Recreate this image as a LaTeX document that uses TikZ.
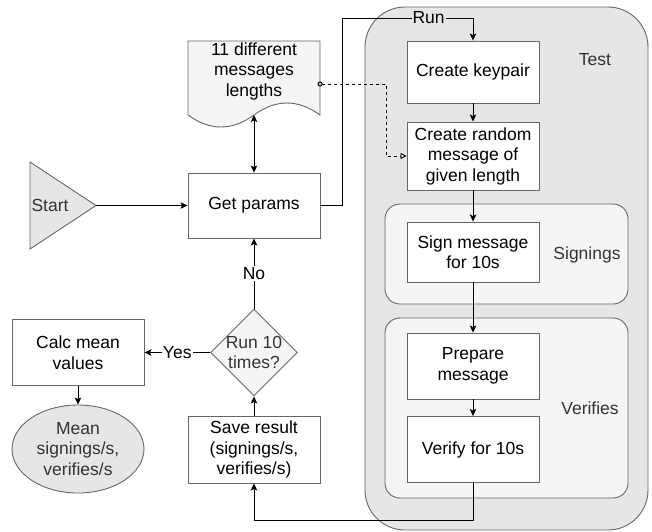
\documentclass[tikz,border=0pt]{standalone}
\usepackage{fontspec}
\setmainfont{Liberation Sans}
\usepackage{tikz}
\usetikzlibrary{arrows.meta,shapes.geometric}
\definecolor{panelgray}{HTML}{E6E6E6}
\definecolor{palegray}{HTML}{F5F5F5}
\definecolor{edgegray}{HTML}{666666}
\definecolor{textgray}{HTML}{333333}
\tikzset{
	% ---- default
	every path/.style={line width=0.9pt},
	every node/.style={font=\fontsize{17.5}{20.5}\selectfont, align=center},
	>={Stealth[length=7pt, width=6.5pt, inset=1.5pt]},
	% ---- custom
	process/.style={draw=edgegray, fill=white, minimum width=132pt, inner sep=2pt},
	panel/.style={draw=edgegray, fill=panelgray, rounded corners=40pt},
	subpanel/.style={draw=edgegray, fill=palegray, rounded corners=15pt, minimum width=243pt},
	decision/.style={diamond, draw=edgegray, fill=palegray, minimum width=87pt, minimum height=87pt, inner sep=0pt},
	terminal/.style={ellipse, draw=edgegray, fill=panelgray, text=textgray, minimum width=132pt, minimum height=88pt, inner sep=0pt},
	document/.style={draw=edgegray, fill=palegray},
	startshape/.style={draw=edgegray, fill=panelgray},
	panel label/.style={text=textgray},
	edge label/.style={fill=white, inner sep=1pt},
	link/.style={dash pattern=on 3pt off 3pt, shorten <=-2.5pt, {Circle[open, length=5pt, width=5pt]}-{Triangle[open, length=6pt, width=6pt]}},
}

\begin{document}
\begin{tikzpicture}[x=1pt, y=-1pt]

	\useasboundingbox (0,0) rectangle (652,531);

% containers %{{{2

	\node[panel, minimum width=283pt, minimum height=523pt] (test) at (506.5,268.5) {};
	\node[subpanel, minimum height=100pt] (signings) at (506.5,254) {};
	\node[subpanel, minimum height=180pt] (verifies) at (506.5,408) {};

	\node[panel label] at (595,60) {Test};
	\node[panel label] at (587,255) {Signings};
	\node[panel label] at (590,408) {Verifies};

% coordinates %{{{2

	\coordinate (start tip) at (96,205.5);
	\coordinate (doc bottom) at (254,115);
	\coordinate (doc port) at (320,84);
	\coordinate (run turn) at (473,18);

% shapes %{{{2

	\filldraw[startshape] (30,162) -- (start tip) -- (30,249) -- cycle;
	\node[text=textgray] (start) at (50,205.5) {Start};

	\filldraw[document] (188,41) -- (320,41) -- (320,115)
		.. controls (298,99) and (276,99) .. (doc bottom)
		.. controls (232,131) and (210,131) .. (188,115) -- cycle;
	\node (lengths) at (254,71) {11 different\\messages\\lengths};

% nodes %{{{2

	\node[process, minimum height=65pt] (params) at (254,205.5) {Get params};
	\node[process, minimum height=62pt] (keypair) at (473,72) {Create keypair};
	\node[process, minimum height=68pt] (randmsg) at (473,156) {Create random\\message of\\given length};
	\node[process, minimum height=60pt] (sign) at (473,252) {Sign message\\for 10s};
	\node[process, minimum height=66pt] (prepare) at (473,366) {Prepare\\message};
	\node[process, minimum height=66pt] (verify) at (473,449.5) {Verify for 10s};
	\node[process, minimum height=67pt] (save) at (254,449.5) {Save result\\(signings/s,\\verifies/s)};
	\node[decision] (runs) at (254,352.5) {};
	\node[text=textgray] (runs text) at (runs) {Run 10\\times?};
	\node[process, minimum height=66pt] (calc) at (78,352.5) {Calc mean\\values};
	\node[terminal] (mean) at (78,449) {Mean\\signings/s,\\verifies/s};

% connectors %{{{2

	\draw[->] (start tip) -- (params.west);
	\draw[<->] (params.north) -- (doc bottom);
	\draw[link] (doc port) -- (386,84) |- (randmsg.west);
	\draw[->] (params.east) -- ++(22,0) |- (run turn)
		node[pos=0.83, fill=panelgray, inner sep=1pt] {Run} -- (keypair.north);
	\draw[->] (keypair) -- (randmsg);
	\draw[->] (randmsg) -- (sign);
	\draw[->] (sign) -- (prepare);
	\draw[->] (prepare) -- (verify);
	\draw[->] (verify.south) -- ++(0,37.5) -| (save.south);
	\draw[->] (save) -- (runs);
	\draw[->] (runs) -- node[edge label] {No} (params);
	\draw[->] (runs) -- node[edge label] {Yes} (calc);
	\draw[->] (calc) -- (mean);

% closing %{{{2

\end{tikzpicture}
\end{document}
